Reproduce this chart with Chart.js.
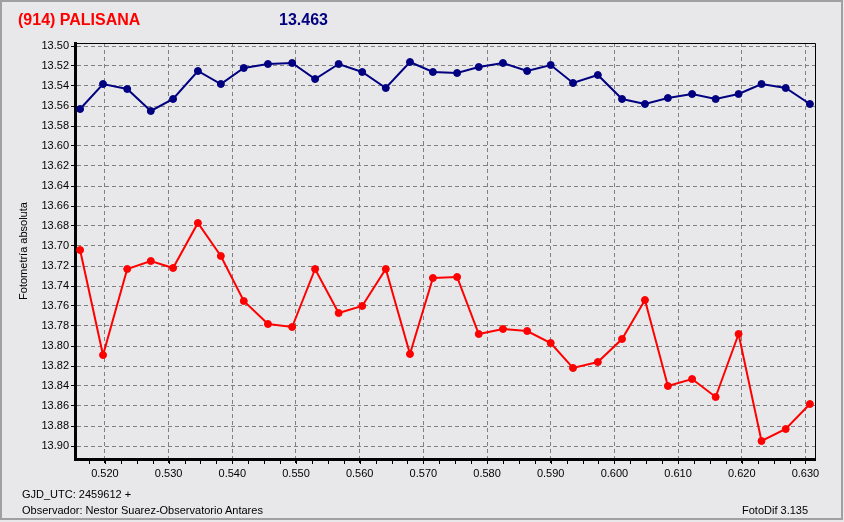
<!DOCTYPE html>
<html>
<head>
<meta charset="utf-8">
<script src="https://cdn.jsdelivr.net/npm/chart.js@4.4.1/dist/chart.umd.min.js"></script>
<style>
  html, body { margin: 0; padding: 0; background: #e8e8ea; }
  #wrap { position: relative; width: 844px; height: 522px; overflow: hidden; }
  #myChart { position: absolute; left: 0; top: 0; }
  .frame { position: absolute; left: 0; top: 0; width: 843px; height: 520px; box-sizing: border-box; border: 2px solid #a0a0a0; }
  .txt { position: absolute; white-space: nowrap; font-family: 'Liberation Sans', Arial, sans-serif; }
  .head { font-size: 16px; font-weight: bold; line-height: 19px; top: 10px; }
  .foot { font-size: 11px; line-height: 13px; color: #000; }
</style>
</head>
<body>
<div id="wrap">
  <canvas id="myChart" width="844" height="522"></canvas>
  <div class="frame"></div>
  <div class="txt head" style="left:18px; color:#ff0000;">(914) PALISANA</div>
  <div class="txt head" style="left:279px; color:#000080;">13.463</div>
  <div class="txt foot" style="left:22px; top:488px;">GJD_UTC: 2459612 +</div>
  <div class="txt foot" style="left:22px; top:504px;">Observador: Nestor Suarez-Observatorio Antares</div>
  <div class="txt foot" style="left:742px; top:504px;">FotoDif 3.135</div>
</div>
<script>
// fase (GJD - 2459612)
const tiempos = [0.5161, 0.5197, 0.5235, 0.5272, 0.5307, 0.5346, 0.5382, 0.5418,
  0.5456, 0.5494, 0.5530, 0.5567, 0.5604, 0.5641, 0.5679, 0.5715,
  0.5753, 0.5787, 0.5825, 0.5863, 0.5900, 0.5935, 0.5974, 0.6012,
  0.6048, 0.6084, 0.6122, 0.6159, 0.6195, 0.6231, 0.6269, 0.6307];

// estrella de comparacion (azul)
const magComparacion = [13.563, 13.538, 13.543, 13.565, 13.553, 13.525, 13.538, 13.522,
  13.518, 13.517, 13.533, 13.518, 13.526, 13.542, 13.516, 13.526,
  13.527, 13.521, 13.517, 13.525, 13.519, 13.537, 13.529, 13.553,
  13.558, 13.552, 13.548, 13.553, 13.548, 13.538, 13.542, 13.558];

// asteroide (rojo)
const magAsteroide = [13.704, 13.809, 13.723, 13.715, 13.722, 13.677, 13.710, 13.755,
  13.778, 13.781, 13.723, 13.767, 13.760, 13.723, 13.808, 13.732,
  13.731, 13.788, 13.783, 13.785, 13.797, 13.822, 13.816, 13.793,
  13.754, 13.840, 13.833, 13.851, 13.788, 13.895, 13.883, 13.858];

const xTicks = [0.52, 0.53, 0.54, 0.55, 0.56, 0.57, 0.58, 0.59, 0.60, 0.61, 0.62, 0.63];
const yTicks = [13.50, 13.52, 13.54, 13.56, 13.58, 13.60, 13.62, 13.64, 13.66, 13.68, 13.70,
  13.72, 13.74, 13.76, 13.78, 13.80, 13.82, 13.84, 13.86, 13.88, 13.90];

const fuente = { family: "'Liberation Sans', Arial, sans-serif", size: 11 };

// marco fino arriba/derecha y marcas menores del eje x
const marco = {
  id: 'marco',
  afterDraw(chart) {
    const { ctx, chartArea: a, scales } = chart;
    ctx.save();
    ctx.strokeStyle = '#000';
    ctx.lineWidth = 1;
    ctx.beginPath();
    ctx.moveTo(a.left, a.top + 0.5);
    ctx.lineTo(a.right + 0.5, a.top + 0.5);
    ctx.lineTo(a.right + 0.5, a.bottom);
    ctx.stroke();
    ctx.beginPath();
    for (let v = 0.5175; v < 0.6315; v += 0.0025) {
      const px = Math.round(scales.x.getPixelForValue(v)) + 0.5;
      ctx.moveTo(px, a.bottom);
      ctx.lineTo(px, a.bottom + 5);
    }
    ctx.stroke();
    ctx.restore();
  }
};

const ctx = document.getElementById('myChart');

new Chart(ctx, {
  type: 'line',
  data: {
    datasets: [{
      label: 'Comparacion',
      data: tiempos.map((t, i) => ({ x: t, y: magComparacion[i] })),
      borderColor: '#000080',
      backgroundColor: '#000080',
      borderWidth: 2,
      pointRadius: 3.5,
      pointBorderWidth: 1
    }, {
      label: '(914) Palisana',
      data: tiempos.map((t, i) => ({ x: t, y: magAsteroide[i] })),
      borderColor: '#ff0000',
      backgroundColor: '#ff0000',
      borderWidth: 2,
      pointRadius: 3.5,
      pointBorderWidth: 1
    }]
  },
  options: {
    responsive: false,
    animation: false,
    devicePixelRatio: 1,
    layout: { padding: { left: 12, right: 29, top: 43, bottom: 43 } },
    plugins: {
      legend: { display: false },
      tooltip: { enabled: false }
    },
    scales: {
      x: {
        type: 'linear',
        min: 0.5153,
        max: 0.6315,
        afterBuildTicks: s => { s.ticks = xTicks.map(v => ({ value: v })); },
        afterFit: s => { s.height = 20; },
        ticks: {
          callback: v => v.toFixed(3),
          font: fuente,
          color: '#000',
          padding: 4,
          maxRotation: 0,
          autoSkip: false
        },
        grid: { color: '#808080', lineWidth: 1, tickLength: 4, tickColor: '#000' },
        border: { color: '#000', width: 3, dash: [4, 3] }
      },
      y: {
        type: 'linear',
        reverse: true,
        min: 13.497,
        max: 13.913,
        afterBuildTicks: s => { s.ticks = yTicks.map(v => ({ value: v })); },
        afterFit: s => { s.width = 63; },
        ticks: {
          callback: v => v.toFixed(2),
          font: fuente,
          color: '#000',
          padding: 2,
          autoSkip: false
        },
        title: {
          display: true,
          text: 'Fotometría absoluta',
          font: fuente,
          color: '#000',
          padding: { top: 5, bottom: 0 }
        },
        grid: { color: '#808080', lineWidth: 1, tickLength: 4, tickColor: '#000' },
        border: { color: '#000', width: 3, dash: [4, 3] }
      }
    }
  },
  plugins: [marco]
});
</script>
</body>
</html>
